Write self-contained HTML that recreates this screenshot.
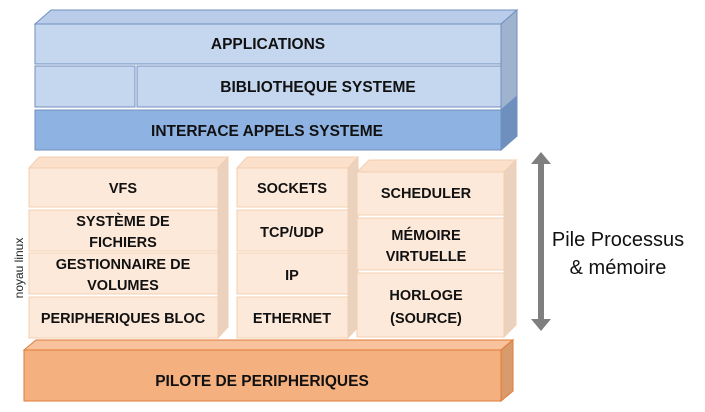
<!DOCTYPE html>
<html><head><meta charset="utf-8"><style>
html,body{margin:0;padding:0;background:#fff;}
svg{display:block}
text{font-family:"Liberation Sans",sans-serif;}
.b{font-weight:bold;font-size:14.5px;fill:#111;text-anchor:middle}
.bl{font-size:15.5px}
</style></head><body>
<svg width="705" height="412" viewBox="0 0 705 412" xmlns="http://www.w3.org/2000/svg">
<g stroke="#6f8fbf" stroke-width="1">
<polygon points="35,24 51,10 517,10 501,24" fill="#b9cdea"/>
<polygon points="501,24 517,10 517,136 501,150" fill="#9fb3cf"/>
<rect x="35" y="24" width="466" height="40" fill="#c5d7ef"/>
<rect x="35" y="66" width="100" height="41" fill="#c5d7ef"/>
<rect x="137" y="66" width="364" height="41" fill="#c5d7ef"/>
<rect x="35" y="110" width="466" height="40" fill="#8eb3e2"/>
<polygon points="501,110 517,96 517,136 501,150" fill="#6f8fbf"/>
</g>
<text class="b bl" x="268" y="49">APPLICATIONS</text>
<text class="b bl" x="318" y="92">BIBLIOTHEQUE SYSTEME</text>
<text class="b bl" x="267" y="136">INTERFACE APPELS SYSTEME</text>

<g stroke="#f3cfb2" stroke-width="1">
<polygon points="29,168 39,157 228,157 218,168" fill="#fbe0cb"/>
<polygon points="218,168 228,157 228,327 218,338" fill="#ead2bf"/>
<rect x="29" y="168" width="189" height="39" fill="#fde9da"/>
<rect x="29" y="210" width="189" height="41" fill="#fde9da"/>
<rect x="29" y="253" width="189" height="41" fill="#fde9da"/>
<rect x="29" y="297" width="189" height="41" fill="#fde9da"/>
<polygon points="237,168 247,157 358,157 348,168" fill="#fbe0cb"/>
<polygon points="348,168 358,157 358,327 348,338" fill="#ead2bf"/>
<rect x="237" y="168" width="111" height="39" fill="#fde9da"/>
<rect x="237" y="210" width="111" height="41" fill="#fde9da"/>
<rect x="237" y="253" width="111" height="41" fill="#fde9da"/>
<rect x="237" y="297" width="111" height="41" fill="#fde9da"/>
<polygon points="357,172 369,160 516,160 504,172" fill="#fbe0cb"/>
<polygon points="504,172 516,160 516,325 504,337" fill="#ead2bf"/>
<rect x="357" y="172" width="147" height="43" fill="#fde9da"/>
<rect x="357" y="218" width="147" height="52" fill="#fde9da"/>
<rect x="357" y="273" width="147" height="64" fill="#fde9da"/>
</g>
<text class="b" x="123" y="193">VFS</text>
<text class="b" x="123" y="226">SYSTÈME DE</text>
<text class="b" x="123" y="247">FICHIERS</text>
<text class="b" x="123" y="269">GESTIONNAIRE DE</text>
<text class="b" x="123" y="290">VOLUMES</text>
<text class="b" x="123" y="323">PERIPHERIQUES BLOC</text>
<text class="b" x="292" y="193">SOCKETS</text>
<text class="b" x="292" y="237">TCP/UDP</text>
<text class="b" x="292" y="280">IP</text>
<text class="b" x="292" y="323">ETHERNET</text>
<text class="b" x="426" y="198">SCHEDULER</text>
<text class="b" x="426" y="240">MÉMOIRE</text>
<text class="b" x="426" y="261">VIRTUELLE</text>
<text class="b" x="426" y="300">HORLOGE</text>
<text class="b" x="426" y="323">(SOURCE)</text>

<text x="20" y="268" transform="rotate(-90 20 268)" text-anchor="middle" dominant-baseline="middle" font-size="12" fill="#222">noyau linux</text>

<g stroke="#e07b39" stroke-width="1">
<polygon points="24,350 36,340 513,340 501,350" fill="#f8c29c"/>
<polygon points="501,350 513,340 513,391 501,401" fill="#d99a6c"/>
<rect x="24" y="350" width="477" height="51" fill="#f5b07f"/>
</g>
<text class="b" x="262" y="386" style="font-size:15.5px">PILOTE DE PERIPHERIQUES</text>

<rect x="538" y="162" width="6" height="160" fill="#7f7f7f"/>
<polygon points="541,152 551,164 531,164" fill="#7f7f7f"/>
<polygon points="541,331 551,319 531,319" fill="#7f7f7f"/>
<text x="618" y="246" font-size="20" text-anchor="middle" fill="#111">Pile Processus</text>
<text x="618" y="274" font-size="20" text-anchor="middle" fill="#111">&amp; mémoire</text>
</svg>
</body></html>
